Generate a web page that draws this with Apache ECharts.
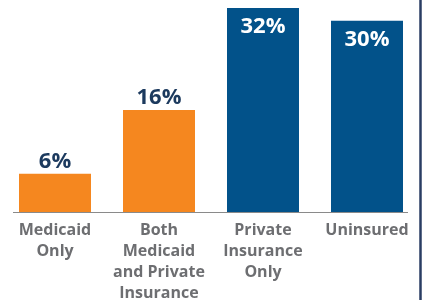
<!DOCTYPE html>
<html>
<head>
<meta charset="utf-8">
<script src="https://cdn.jsdelivr.net/npm/echarts@6/dist/echarts.min.js"></script>
<style>
  html, body { margin: 0; padding: 0; background: #fff; }
  #chart { width: 425px; height: 300px; }
</style>
</head>
<body>
<div id="chart"></div>
<script>
var categories = ['Medicaid\nOnly', 'Both\nMedicaid\nand Private\nInsurance', 'Private\nInsurance\nOnly', 'Uninsured'];
var shares = [6, 16, 32, 30];
var barColors = ['#f5871f', '#f5871f', '#02528a', '#02528a'];
var labelInside = [false, false, true, true];

var chart = echarts.init(document.getElementById('chart'));

var barData = [];
for (var i = 0; i < shares.length; i++) {
  barData.push({
    value: shares[i],
    itemStyle: { color: barColors[i] },
    label: labelInside[i]
      ? { position: 'insideTop', distance: 8, color: '#ffffff' }
      : { position: 'top', distance: 1, color: '#1c3a5e' }
  });
}

chart.setOption({
  animation: false,
  grid: { left: 3, right: 6, top: 8, bottom: 88, outerBoundsMode: 'none' },
  xAxis: {
    type: 'category',
    data: categories,
    axisLine: { show: false },
    axisTick: { show: false },
    axisLabel: {
      interval: 0,
      margin: 8,
      color: '#6d6e71',
      fontFamily: 'Open Sans',
      fontWeight: 'bold',
      fontSize: 16,
      lineHeight: 21
    }
  },
  yAxis: {
    type: 'value',
    min: 0,
    max: 32,
    show: false,
    splitLine: { show: false }
  },
  series: [{
    type: 'bar',
    data: barData,
    barWidth: 72,
    label: {
      show: true,
      formatter: '{c}%',
      fontFamily: 'Open Sans',
      fontWeight: 'bold',
      fontSize: 22
    }
  }],
  graphic: [
    {
      type: 'line',
      shape: { x1: 13, y1: 212.5, x2: 408, y2: 212.5 },
      style: { stroke: '#8a8a8a', lineWidth: 1 }
    },
    {
      type: 'line',
      shape: { x1: 420.5, y1: 0, x2: 420.5, y2: 300 },
      style: { stroke: '#2a3d63', lineWidth: 2.5 }
    }
  ]
});
</script>
</body>
</html>
